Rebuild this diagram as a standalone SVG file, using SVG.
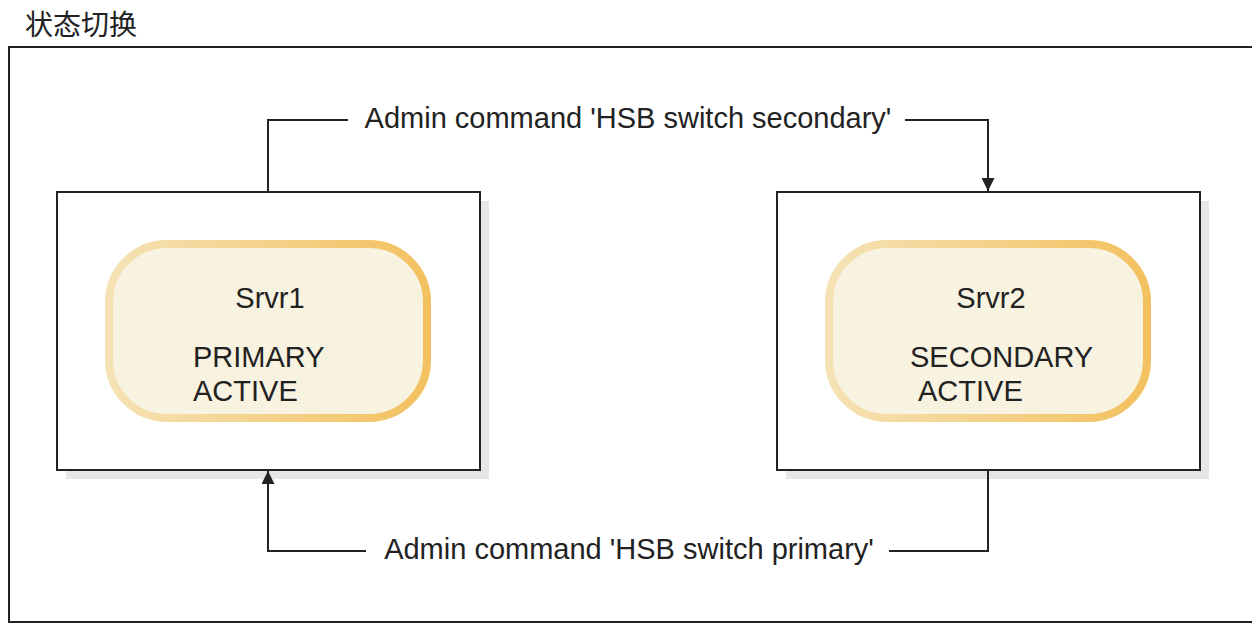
<svg xmlns="http://www.w3.org/2000/svg" width="1252" height="624" viewBox="0 0 1252 624">
<defs>
<linearGradient id="pillStroke" x1="0" y1="0" x2="1" y2="0">
<stop offset="0" stop-color="#f5e2b5"/>
<stop offset="1" stop-color="#f3c15f"/>
</linearGradient>
<marker id="arr" viewBox="0 0 12 12" refX="12" refY="6" markerWidth="13" markerHeight="13" markerUnits="userSpaceOnUse" orient="auto">
<path d="M0,0 L12,6 L0,12 Z" fill="#222"/>
</marker>
</defs>
<style>
text{font-family:"Liberation Sans",Arial,"Noto Sans CJK SC",sans-serif;fill:#222;font-size:29px}
.title{font-size:28px;font-family:"Noto Sans CJK SC","Liberation Sans",sans-serif}
.box{fill:#fff;stroke:#222;stroke-width:2}
.shadow{fill:#e6e6e6}
.pill{fill:#f8f2e0;stroke:url(#pillStroke);stroke-width:8}
.conn{fill:none;stroke:#222;stroke-width:2}
</style>
<rect width="1252" height="624" fill="#fff"/>
<text class="title" x="25" y="35">状态切换</text>
<rect x="9" y="47" width="1260" height="575" fill="none" stroke="#222" stroke-width="2"/>
<g id="srvr1">
<rect class="shadow" x="66" y="201" width="423" height="278"/>
<rect class="box" x="57" y="192" width="423" height="278"/>
<rect class="pill" x="109" y="244" width="318" height="174" rx="58" ry="58"/>
<text x="270" y="308" text-anchor="middle">Srvr1</text>
<text x="193" y="367">PRIMARY</text>
<text x="193" y="401">ACTIVE</text>
</g>
<g id="srvr2">
<rect class="shadow" x="786" y="201" width="423" height="278"/>
<rect class="box" x="777" y="192" width="423" height="278"/>
<rect class="pill" x="829" y="244" width="318" height="174" rx="58" ry="58"/>
<text x="991" y="308" text-anchor="middle">Srvr2</text>
<text x="910" y="367">SECONDARY</text>
<text x="918" y="401">ACTIVE</text>
</g>
<g id="connectors">
<polyline class="conn" points="268,192 268,120 348,120"/>
<polyline class="conn" points="905,120 988,120 988,191" marker-end="url(#arr)"/>
<text x="628" y="128" text-anchor="middle">Admin command 'HSB switch secondary'</text>
<polyline class="conn" points="988,470 988,551 889,551"/>
<polyline class="conn" points="366,551 268,551 268,471" marker-end="url(#arr)"/>
<text x="629" y="559" text-anchor="middle">Admin command 'HSB switch primary'</text>
</g>
</svg>
